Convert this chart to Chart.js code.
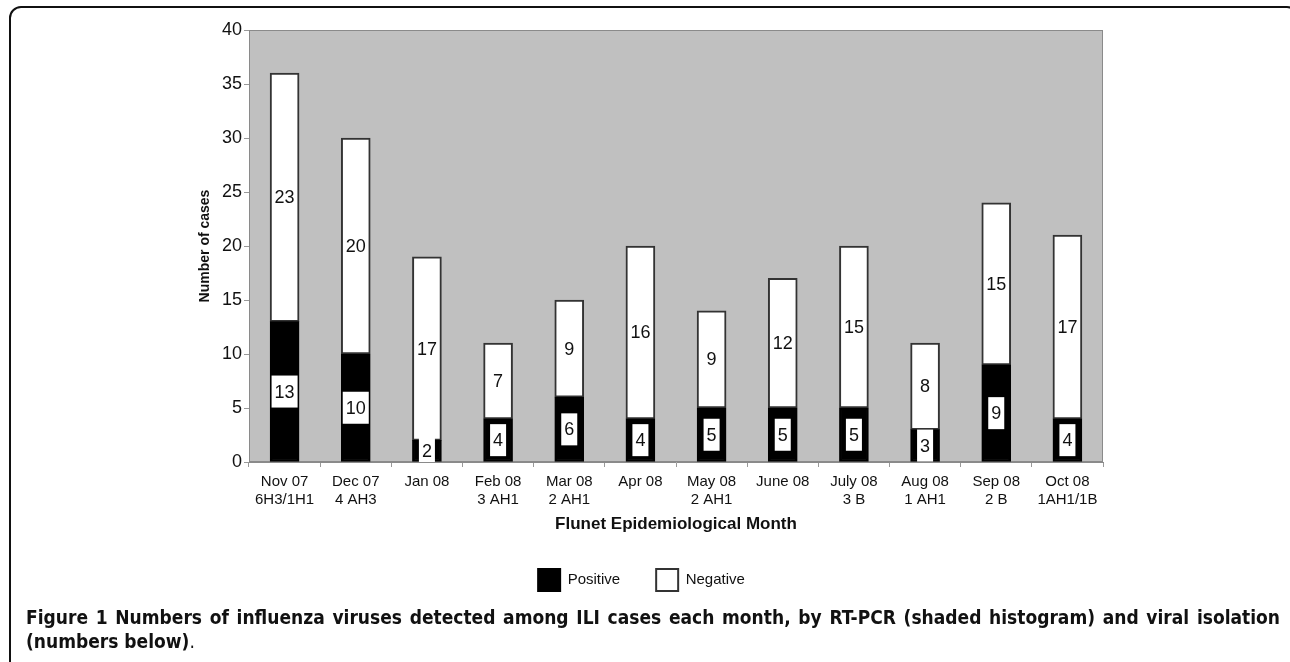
<!DOCTYPE html>
<html>
<head>
<meta charset="utf-8">
<script src="https://cdn.jsdelivr.net/npm/chart.js@4.4.1/dist/chart.umd.min.js"></script>
<style>
  html, body { margin: 0; padding: 0; background: #fff; overflow: hidden; }
  body { width: 1290px; height: 662px; position: relative; }
  #frame {
    position: absolute; left: 9px; top: 6px; width: 1290px; height: 700px;
    border: 2px solid #111; border-radius: 12px; box-sizing: border-box;
  }
  #chartBox { position: absolute; left: 0; top: 0; width: 1290px; height: 601px; }
  #caption {
    position: absolute; left: 26px; top: 605px; width: 1254px;
    font-family: "Liberation Sans Narrow", "DejaVu Sans Condensed", "Liberation Sans", sans-serif;
    font-stretch: condensed; font-weight: 700; font-size: 19px; line-height: 24px;
    color: #111; text-align: justify; text-align-last: left;
  }
  #caption .end { font-weight: 400; }
</style>
</head>
<body>
<div id="chartBox"><canvas id="fluChart" width="1290" height="601"></canvas></div>
<div id="frame"></div>
<div id="caption">Figure 1 Numbers of influenza viruses detected among ILI cases each month, by RT-PCR (shaded histogram) and viral isolation (numbers below)<span class="end">.</span></div>

<script>
// months and the isolates found each month (second line of the axis label)
const months   = ["Nov 07", "Dec 07", "Jan 08", "Feb 08", "Mar 08", "Apr 08",
                  "May 08", "June 08", "July 08", "Aug 08", "Sep 08", "Oct 08"];
const isolates = ["6H3/1H1", "4 AH3", "", "3 AH1", "2 AH1", "",
                  "2 AH1", "", "3 B", "1 AH1", "2 B", "1AH1/1B"];

const positive = [13, 10, 2, 4, 6, 4, 5, 5, 5, 3, 9, 4];
const negative = [23, 20, 17, 7, 9, 16, 9, 12, 15, 8, 15, 17];

const yTicks = [0, 5, 10, 15, 20, 25, 30, 35, 40];

const FONT = "'Liberation Sans', Arial, sans-serif";

// grey plot area with a thin frame
const plotBackground = {
  id: "plotBackground",
  beforeDraw(chart){
    const { ctx, chartArea: a } = chart;
    ctx.save();
    ctx.fillStyle = "#c0c0c0";
    ctx.fillRect(a.left, a.top, a.right - a.left, a.bottom - a.top);
    ctx.strokeStyle = "#8a8a8a";
    ctx.lineWidth = 1;
    ctx.strokeRect(a.left + 0.5, a.top + 0.5, a.right - a.left - 1, a.bottom - a.top - 1);
    ctx.restore();
  }
};

// numbers in the middle of each segment, white box behind positives
const segmentLabels = {
  id: "segmentLabels",
  afterDatasetsDraw(chart){
    const { ctx, chartArea: a } = chart;
    ctx.save();
    ctx.beginPath();
    ctx.rect(a.left, a.top, a.right - a.left, a.bottom - a.top);
    ctx.clip();
    ctx.font = "18px " + FONT;
    ctx.textAlign = "center";
    ctx.textBaseline = "middle";
    chart.data.datasets.forEach((ds, i) => {
      chart.getDatasetMeta(i).data.forEach((bar, j) => {
        const text = String(ds.data[j]);
        const cy = (bar.y + bar.base) / 2;
        if(i === 0){
          const w = ctx.measureText(text).width + 6;
          const h = 32;
          ctx.fillStyle = "#fff";
          ctx.fillRect(bar.x - w / 2, cy - h / 2, w, h);
        }
        ctx.fillStyle = "#111";
        ctx.fillText(text, bar.x, cy + 1);
      });
    });
    ctx.restore();
  }
};

new Chart(document.getElementById("fluChart"), {
  type: "bar",
  data: {
    labels: months.map((m, i) => [m, isolates[i]]),
    datasets: [
      {
        label: "Positive",
        data: positive,
        backgroundColor: "#000",
        borderColor: "#000",
        borderWidth: 2,
        borderSkipped: false,
        barThickness: 29
      },
      {
        label: "Negative",
        data: negative,
        backgroundColor: "#fff",
        borderColor: "#333",
        borderWidth: 2,
        borderSkipped: false,
        barThickness: 29
      }
    ]
  },
  options: {
    responsive: false,
    animation: false,
    layout: { padding: { left: 180, right: 187, top: 30, bottom: 0 } },
    plugins: {
      tooltip: { enabled: false },
      legend: {
        position: "bottom",
        labels: {
          boxWidth: 22,
          boxHeight: 22,
          padding: 36,
          color: "#111",
          font: { family: FONT, size: 15 }
        }
      }
    },
    scales: {
      x: {
        stacked: true,
        afterFit: (scale) => { scale.height = 71; },
        grid: { drawOnChartArea: false, drawTicks: true, tickLength: 5, color: "#999" },
        border: { color: "#8a8a8a" },
        ticks: { color: "#111", padding: 6, maxRotation: 0, autoSkip: false,
                 font: { family: FONT, size: 15, lineHeight: 1.2 } },
        title: {
          display: true,
          text: "Flunet Epidemiological Month",
          color: "#111",
          padding: 0,
          font: { family: FONT, size: 17, weight: "bold", lineHeight: 1 }
        }
      },
      y: {
        stacked: true,
        min: 0,
        max: 40,
        afterFit: (scale) => { scale.width = 69; },
        afterBuildTicks: (scale) => { scale.ticks = yTicks.map((v) => ({ value: v })); },
        grid: { drawOnChartArea: false, drawTicks: true, tickLength: 5, color: "#999" },
        border: { color: "#8a8a8a" },
        ticks: { color: "#111", padding: 2, font: { family: FONT, size: 18 } },
        title: {
          display: true,
          text: "Number of cases",
          color: "#111",
          padding: { top: 17, bottom: 0 },
          font: { family: FONT, size: 14, weight: "bold" }
        }
      }
    }
  },
  plugins: [plotBackground, segmentLabels]
});
</script>
</body>
</html>
